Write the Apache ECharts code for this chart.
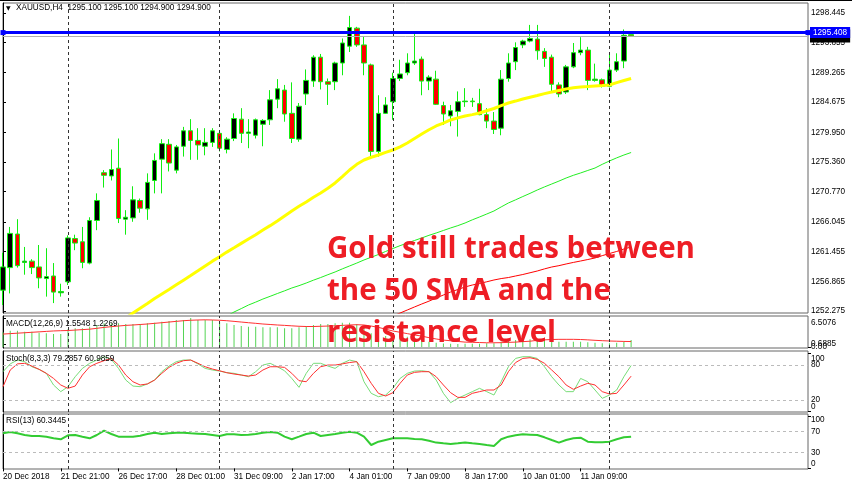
<!DOCTYPE html>
<html><head><meta charset="utf-8">
<script src="https://cdn.jsdelivr.net/npm/echarts@6/dist/echarts.min.js"></script>
<style>html,body{margin:0;padding:0;background:#fff}#c{width:852px;height:485px}</style>
</head><body><div id="c"></div>
<script>
// ---- price candles (H4 bars, index = bar number) ----
const opens  = [1255.5,1259.0,1264.2,1259.8,1260.0,1259.1,1257.3,1257.7,1255.1,1256.8,
 1263.5,1263.0,1259.7,1266.3,1273.7,1273.2,1274.4,1266.5,1266.7,1269.4,
 1268.1,1272.5,1275.8,1278.1,1274.1,1277.8,1280.2,1278.7,1277.8,1278.4,
 1279.8,1277.3,1279.0,1282.0,1279.8,1279.5,1281.2,1281.9,1285.1,1286.5,
 1282.9,1278.9,1285.9,1287.9,1291.6,1287.8,1287.8,1290.7,1293.3,1296.1,
 1293.5,1290.4,1277.0,1282.9,1284.7,1288.3,1289.2,1290.7,1291.3,1287.9,
 1288.2,1284.1,1282.5,1283.2,1284.7,1284.8,1284.4,1282.7,1281.7,1280.6,
 1288.3,1290.9,1293.5,1294.1,1294.4,1292.5,1291.6,1287.3,1286.2,1290.1,
 1292.3,1292.7,1288.0,1288.1,1287.1,1289.6,1291.0,1295.1];
const highs  = [1261.3,1265.3,1266.5,1262.2,1260.3,1262.5,1262.0,1259.7,1256.5,1264.0,
 1264.1,1265.3,1266.8,1270.5,1274.1,1277.3,1279.0,1267.9,1271.6,1269.7,
 1273.6,1276.7,1278.9,1278.9,1278.0,1280.8,1282.0,1280.6,1280.6,1280.6,
 1280.1,1279.2,1282.9,1283.7,1282.0,1282.1,1282.0,1286.5,1288.2,1287.3,
 1287.7,1284.5,1289.7,1291.9,1292.1,1288.3,1290.9,1294.5,1298.0,1296.3,
 1294.8,1290.6,1285.7,1285.4,1289.2,1291.2,1292.2,1295.3,1291.7,1288.8,
 1289.5,1284.7,1284.2,1286.3,1286.8,1285.3,1286.7,1283.7,1283.1,1289.6,
 1292.2,1293.9,1294.3,1296.6,1296.6,1293.0,1292.0,1287.7,1290.4,1293.8,
 1294.7,1293.2,1290.6,1288.3,1292.2,1292.2,1295.9,1295.1];
const lows   = [1253.2,1255.0,1259.0,1257.9,1258.0,1255.8,1254.5,1253.5,1254.5,1256.3,
 1261.7,1258.9,1259.5,1264.8,1271.4,1272.5,1265.9,1264.1,1266.1,1267.5,
 1266.4,1270.5,1270.5,1273.9,1273.6,1276.2,1275.7,1275.7,1276.4,1277.7,
 1277.0,1276.7,1278.6,1278.3,1277.5,1279.0,1277.8,1281.1,1283.7,1281.6,
 1278.3,1278.5,1284.2,1287.0,1286.6,1284.2,1286.5,1288.8,1292.4,1293.2,
 1288.8,1275.9,1276.2,1282.8,1281.9,1287.9,1288.8,1290.4,1285.7,1286.5,
 1284.2,1281.1,1280.9,1279.3,1283.9,1283.9,1282.6,1280.6,1279.7,1279.5,
 1287.8,1289.6,1293.0,1293.9,1291.2,1290.1,1286.3,1285.4,1285.9,1289.9,
 1291.9,1286.5,1287.8,1286.9,1286.9,1289.3,1289.9,1294.9];
const closes = [1259.1,1264.3,1259.3,1260.0,1259.0,1257.4,1257.6,1255.2,1255.3,1263.6,
 1262.8,1259.8,1266.3,1269.4,1273.3,1274.2,1266.6,1266.8,1269.5,1268.2,
 1272.2,1275.6,1278.2,1275.2,1277.7,1280.2,1278.7,1278.0,1278.4,1280.2,
 1277.5,1278.9,1282.1,1279.8,1280.0,1281.9,1281.8,1285.0,1286.7,1282.8,
 1279.0,1284.0,1288.0,1291.6,1287.8,1287.4,1290.7,1293.8,1296.2,1293.5,
 1290.7,1277.0,1282.9,1284.2,1288.3,1289.0,1290.7,1291.0,1287.9,1288.5,
 1284.3,1282.8,1283.3,1284.7,1284.8,1284.7,1282.7,1281.7,1280.4,1288.2,
 1290.7,1293.1,1294.1,1294.5,1292.6,1291.4,1287.4,1285.9,1290.1,1292.3,
 1292.7,1288.0,1288.2,1287.1,1289.6,1290.9,1295.0,1294.9];

// ---- moving averages (values from their first visible bar) ----
const sma50Start = 16;
const sma50 = [1250.0,1251.2,1251.96,1252.7,1253.43,1254.2,1254.91,1255.6,1256.33,1257.05,
 1257.77,1258.5,1259.25,1260.0,1260.69,1261.4,1262.07,1262.75,1263.43,1264.1,
 1264.82,1265.5,1266.22,1267.0,1267.77,1268.5,1269.17,1269.9,1270.56,1271.3,
 1272.11,1273.1,1274.12,1275.0,1275.67,1276.1,1276.44,1276.85,1277.22,1277.7,
 1278.3,1279.0,1279.7,1280.35,1280.94,1281.4,1281.87,1282.2,1282.49,1282.7,
 1282.95,1283.3,1283.65,1284.1,1284.5,1284.8,1285.12,1285.4,1285.66,1285.95,
 1286.21,1286.45,1286.67,1286.85,1286.98,1287.05,1287.13,1287.2,1287.29,1287.65,
 1287.99,1288.3];
const smaGreenStart = 30;
const smaGreen = [1250.9,1251.5,1252.12,1252.65,1253.2,1253.65,1254.13,1254.55,1254.98,1255.4,
 1255.84,1256.2,1256.61,1257.05,1257.46,1257.9,1258.32,1258.8,1259.25,1259.7,
 1260.18,1260.6,1261.03,1261.5,1261.96,1262.4,1262.81,1263.2,1263.59,1264.0,
 1264.36,1264.75,1265.14,1265.5,1265.91,1266.4,1266.84,1267.3,1267.77,1268.4,
 1269.01,1269.5,1270.01,1270.5,1271.02,1271.5,1271.95,1272.4,1272.88,1273.3,
 1273.66,1274.05,1274.43,1275.0,1275.52,1276.0,1276.44,1276.83];
const smaRedStart = 53;
const smaRed = [1250.9,1251.5,1251.96,1252.43,1252.9,1253.36,1253.8,1254.29,1254.75,1255.22,
 1255.6,1256.0,1256.3,1256.54,1256.8,1257.08,1257.3,1257.46,1257.7,1257.93,
 1258.2,1258.47,1258.8,1259.09,1259.3,1259.56,1259.8,1260.02,1260.25,1260.49,
 1260.85,1261.18,1261.5,1261.88,1262.19];

const resistance = 1295.408;
const bidPrice = 1294.900;

// ---- MACD(12,26,9) ----
const macdHist = [3.3,3.66,3.66,3.43,3.43,3.21,3.06,2.92,2.92,3.96,
 4.19,4.19,4.56,4.94,5.31,5.31,5.31,5.16,5.16,5.16,
 5.31,5.45,5.68,5.83,6.06,6.06,6.50,6.06,6.06,6.06,
 5.68,5.31,4.94,4.71,4.56,4.56,4.41,4.41,4.41,4.19,
 4.19,4.41,4.71,4.94,5.16,5.16,5.31,5.45,5.45,5.16,
 4.56,3.06,2.69,2.47,2.32,2.47,2.32,2.17,1.95,1.20,
 0.95,0.80,0.72,0.69,0.72,0.75,0.75,0.82,0.82,1.19,
 1.41,1.57,1.57,1.72,1.72,1.57,1.41,1.19,1.19,1.19,
 1.19,1.04,0.97,0.82,0.82,0.97,1.19,1.5548];
const macdSignal = [2.9,3.0,3.1,3.2,3.3,3.4,3.5,3.6,3.66,3.7,
 3.8,3.9,4.0,4.19,4.4,4.56,4.71,4.85,4.94,5.05,
 5.16,5.31,5.45,5.6,5.75,5.9,6.0,6.06,6.1,6.06,
 6.0,5.9,5.75,5.6,5.45,5.31,5.16,5.05,4.94,4.85,
 4.75,4.65,4.6,4.6,4.65,4.7,4.75,4.85,4.94,5.0,
 4.94,4.7,4.4,4.0,3.6,3.3,3.0,2.7,2.44,2.1,
 1.8,1.55,1.4,1.25,1.1,1.05,1.0,0.95,0.95,0.97,
 1.04,1.1,1.2,1.3,1.5,1.6,1.68,1.72,1.72,1.72,
 1.68,1.6,1.5,1.42,1.35,1.3,1.25,1.2269];
const macdTicks = [0.6885, 6.5076];
const macdZeroTick = [0];

// ---- Stochastic(8,3,3) ----
const stochK = [68.6,82,88.6,85.8,77.1,72.6,65.8,45.8,34.4,42.9,
 60,74.3,83,88.6,94.3,89.7,74.3,54.3,44,42.9,
 47.6,54.3,68.6,78.3,85.8,88.6,88.6,82,74.3,71.5,
 69.7,66.9,65.8,62.9,60,68.6,80,83,77.1,70.2,
 57.1,41.8,65.8,83,83,78.3,74.3,83,88.6,85.8,
 51.4,31.5,25.7,28.6,40.1,57.1,65.8,69.7,70.2,68.6,
 54.3,31.5,15.5,22.9,28.6,34.4,40.1,34.4,28.6,51.4,
 77.1,91.4,94.3,94.3,91.4,77.1,60,45.8,34.4,34.4,
 57.1,51.4,37.2,22.9,28.6,37.2,60,79.2857];
const stochD = [42.9,71.5,82,83,78.3,72.6,65.8,57.1,45.8,40.1,
 44,62.9,77.1,83,87.5,91.4,80,62.9,51.4,45.8,
 47.6,54.3,65.8,76,83,87.5,88.6,83,77.1,73.2,
 70.2,66.9,64.6,62.9,61.1,62.9,71.5,77.1,77.1,76,
 65.8,53.2,51.4,65.8,77.1,80,80,82,84.3,85.8,
 68.6,48.7,31.5,26.9,32.6,48.7,62.9,67.5,68.6,68.6,
 60,45.8,32.6,24.6,24.6,31.5,34.4,37.2,37.2,45.8,
 68.6,84.3,91.4,92.6,89.7,83,71.5,60,45.8,38.4,
 44,48.7,45.8,34.4,30.4,31.5,45.8,60.9859];
const stochLevels = [20, 80];
const stochEnds = [0, 100];

// ---- RSI(13) ----
const rsi = [66.8,69.3,66.8,63.6,61.7,61.7,60.4,57.3,55.4,63,
 63.6,60.4,57.3,63.6,71.8,65.5,60.4,60.4,60.4,62.3,
 65.5,68,65.5,66.8,68,68,66.8,66.2,65.5,63.6,
 61.7,64.9,64.9,63.6,64.3,65.5,68,69.3,68,60.4,
 55.4,60.4,65.5,68,61.7,63.6,65.5,68,69.9,68,
 60.4,44.6,50.9,54.1,57.3,57.3,57.3,56,55.4,52.8,
 49.1,47.8,46.6,47.8,49.1,47.8,46.6,44.6,42.7,55.4,
 60.4,63,64.9,64.3,63.6,59.2,54.1,49.1,54.1,57.3,
 58.5,50.9,49.7,49.7,50.9,55.4,59.2,60.3445];
const rsiLevels = [30, 70];
const rsiEnds = [0, 100];

// ---- axes ----
const priceTicks = [1252.275,1256.865,1261.455,1266.045,1270.770,1275.360,1279.950,1284.675,1289.265,1293.855,1298.445];
const tickBars = [0,8,16,24,32,40,48,56,64,72,80];
const tickLabels = ['20 Dec 2018','21 Dec 21:00','26 Dec 17:00','28 Dec 01:00','31 Dec 09:00','2 Jan 17:00','4 Jan 01:00','7 Jan 09:00','8 Jan 17:00','10 Jan 01:00','11 Jan 09:00'];
const separatorBars = [9, 30, 54, 84];
const noteLines = ['Gold still trades between', 'the 50 SMA and the', 'resistance level'];

// ---------------------------------------------------------------
const FF = 'Liberation Sans';
const FS = 8.2;
const last = opens.length - 1;
const candleData = opens.map((o, i) => [i, o, closes[i], lows[i], highs[i]]);
const seq = (start, vals) => vals.map((v, k) => [start + k, v]);

const grids = [
  {left: 3, top: 3, width: 805, height: 310},
  {left: 3, top: 316, width: 805, height: 32},
  {left: 3, top: 351, width: 805, height: 61},
  {left: 3, top: 414, width: 805, height: 55}
].map(g => Object.assign(g, {show: true, borderColor: '#666', borderWidth: 1, containLabel: false}));

const xAxes = grids.map((g, i) => ({
  gridIndex: i, type: 'value', min: 0, max: 111.5,
  axisLine: {show: false}, splitLine: {show: false},
  axisTick: i === 3 ? {show: true, customValues: tickBars, length: 3, lineStyle: {color: '#000'}} : {show: false},
  axisLabel: i === 3 ? {show: true, customValues: tickBars, formatter: v => tickLabels[tickBars.indexOf(v)] || '',
    align: 'left', margin: 4, fontFamily: FF, fontSize: FS, color: '#000'} : {show: false}
}));

// shift: map value -> [padTop, padBottom] to nudge edge labels inside the panel
function yAx(i, min, max, ticks, fmt, shift, showLine) {
  return {
    gridIndex: i, type: 'value', position: 'right', min: min, max: max,
    axisLine: {show: showLine, lineStyle: {color: '#000'}},
    splitLine: {show: false},
    axisTick: {show: true, customValues: ticks, length: 3, lineStyle: {color: '#000'}},
    axisLabel: {
      customValues: ticks, margin: 3, fontFamily: FF, fontSize: FS, color: '#000',
      formatter: v => {
        const s = fmt(v);
        if (shift && shift.top === v) return '{t|' + s + '}';
        if (shift && shift.bottom === v) return '{b|' + s + '}';
        return s;
      },
      rich: {
        t: {padding: [shift ? shift.padTop : 0, 0, 0, 0], fontFamily: FF, fontSize: FS, color: '#000'},
        b: {padding: [0, 0, shift ? shift.padBot : 0, 0], fontFamily: FF, fontSize: FS, color: '#000'}
      }
    }
  };
}
const MACD_R = [-0.224, 6.956], STO_R = [-0.5, 104.1], RSI_R = [-1.14, 103.6];
const yAxes = [
  yAx(0, 1251.965, 1299.995, priceTicks, v => v.toFixed(3), null, true),
  yAx(1, MACD_R[0], MACD_R[1], macdTicks, v => v.toFixed(4), {top: macdTicks[1], padTop: 9}, true),
  yAx(2, STO_R[0], STO_R[1], stochLevels, v => String(v), null, true),
  yAx(3, RSI_R[0], RSI_R[1], rsiLevels, v => String(v), null, true),
  yAx(1, MACD_R[0], MACD_R[1], macdZeroTick, v => v.toFixed(2), null, false),
  yAx(2, STO_R[0], STO_R[1], stochEnds, v => String(v), {top: 100, padTop: 11, bottom: 0, padBot: 10}, false),
  yAx(3, RSI_R[0], RSI_R[1], rsiEnds, v => String(v), {top: 100, padTop: 8, bottom: 0, padBot: 10}, false)
];

const sepLines = separatorBars.map(b => ({xAxis: b}));
const sepMark = {silent: true, animation: false, symbol: 'none', label: {show: false},
  lineStyle: {color: '#333', width: 1, type: [3, 3]}, data: sepLines};
function levelMark(levels) {
  return {silent: true, animation: false, symbol: 'none', label: {show: false},
    data: sepLines.map(d => Object.assign({}, d, {lineStyle: {color: '#333', width: 1, type: [3, 3]}}))
      .concat(levels.map(l => ({yAxis: l, lineStyle: {color: '#bbbbbb', width: 1, type: [3, 3]}})))};
}
const priceLabel = (bg) => ({show: true, position: 'end', distance: 2, fontFamily: FF, fontSize: FS,
  color: '#fff', backgroundColor: bg, padding: [2, 3, 1, 3]});

const series = [
  {type: 'candlestick', xAxisIndex: 0, yAxisIndex: 0, data: candleData, encode: {x: 0, y: [1, 2, 3, 4]},
   barWidth: 5, z: 2,
   itemStyle: {color: '#000000', color0: '#ff0000', borderColor: '#11ee11', borderColor0: '#11ee11',
     borderColorDoji: '#11ee11', borderWidth: 1},
   markLine: sepMark},
  {type: 'line', xAxisIndex: 0, yAxisIndex: 0, data: seq(sma50Start, sma50), symbol: 'none', z: 3,
   lineStyle: {color: '#ffff00', width: 3}},
  {type: 'line', xAxisIndex: 0, yAxisIndex: 0, data: seq(smaGreenStart, smaGreen), symbol: 'none', z: 3,
   lineStyle: {color: '#22ee22', width: 1},
   markLine: {silent: true, animation: false, symbol: 'none',
     data: [{yAxis: bidPrice, lineStyle: {color: '#b0b0b0', width: 1, type: 'solid'},
       label: Object.assign(priceLabel('#000'), {formatter: bidPrice.toFixed(3), padding: [5, 3, 0, 3]})}]}},
  {type: 'line', xAxisIndex: 0, yAxisIndex: 0, data: seq(smaRedStart, smaRed), symbol: 'none', z: 4,
   lineStyle: {color: '#ff0000', width: 1},
   markLine: {silent: true, animation: false, symbol: ['rect', 'rect'], symbolSize: 5,
     data: [{yAxis: resistance, lineStyle: {color: '#0000ff', width: 3, type: 'solid'},
       itemStyle: {color: '#0000ff'},
       label: Object.assign(priceLabel('#0000ff'), {formatter: resistance.toFixed(3)})}]}},
  {type: 'bar', xAxisIndex: 1, yAxisIndex: 1, data: seq(0, macdHist), barWidth: 1,
   itemStyle: {color: '#55d455'}, markLine: sepMark},
  {type: 'line', xAxisIndex: 1, yAxisIndex: 1, data: seq(0, macdSignal), symbol: 'none',
   lineStyle: {color: '#ff3030', width: 1}},
  {type: 'line', xAxisIndex: 2, yAxisIndex: 2, data: seq(0, stochK), symbol: 'none',
   lineStyle: {color: '#77dd77', width: 1}, markLine: levelMark(stochLevels)},
  {type: 'line', xAxisIndex: 2, yAxisIndex: 2, data: seq(0, stochD), symbol: 'none',
   lineStyle: {color: '#ff3030', width: 1}},
  {type: 'line', xAxisIndex: 3, yAxisIndex: 3, data: seq(0, rsi), symbol: 'none',
   lineStyle: {color: '#33cc33', width: 2}, markLine: levelMark(rsiLevels)}
];

const hdr = (x, y, text) => ({type: 'text', x: x, y: y, z: 50,
  style: {text: text, fontFamily: FF, fontSize: FS, fill: '#000', verticalAlign: 'middle', align: 'left'}});
const noteFont = 'bold 29.5px "Open Sans"';
const graphic = [
  {type: 'rect', shape: {x: 0, y: 0, width: 852, height: 1}, style: {fill: '#000'}, z: 50},
  {type: 'text', x: 6, y: 8, z: 50, style: {text: '\u25BC', fontFamily: 'DejaVu Sans', fontSize: 6, fill: '#000', verticalAlign: 'middle'}},
  hdr(16, 8, 'XAUUSD,H4  ' + [opens[last], highs[last], lows[last], closes[last]].map(v => v.toFixed(3)).join(' ')),
  hdr(6, 324, 'MACD(12,26,9) ' + macdHist[last].toFixed(4) + ' ' + macdSignal[last].toFixed(4)),
  hdr(6, 359, 'Stoch(8,3,3) ' + stochK[last].toFixed(4) + ' ' + stochD[last].toFixed(4)),
  hdr(6, 421, 'RSI(13) ' + rsi[last].toFixed(4))
].concat(noteLines.map((t, k) => ({type: 'text', x: 327, y: 250 + k * 41.7, z: 60,
  style: {text: t, font: noteFont, fill: '#ee1d25', verticalAlign: 'middle', align: 'left'}})));

const chart = echarts.init(document.getElementById('c'), null, {renderer: 'canvas'});
chart.setOption({
  animation: false, backgroundColor: '#ffffff',
  grid: grids, xAxis: xAxes, yAxis: yAxes, series: series, graphic: graphic
});
</script></body></html>
